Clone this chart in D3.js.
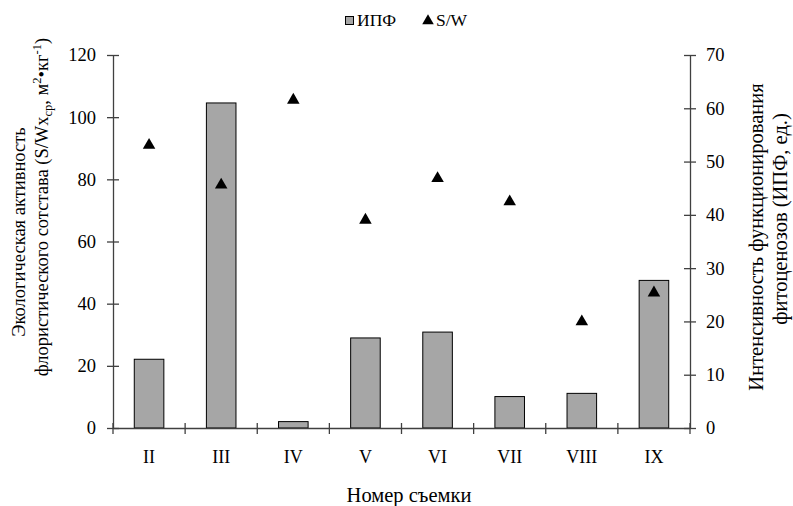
<!DOCTYPE html>
<html><head><meta charset="utf-8">
<script src="https://cdn.jsdelivr.net/npm/d3@7"></script>
<style>
html,body{margin:0;padding:0;background:#fff;}
</style></head>
<body><svg id="c" width="793" height="506" font-family="Liberation Serif"></svg>
<script>
const categories = ["II","III","IV","V","VI","VII","VIII","IX"];
const ipf = [12.9, 61, 1.2, 16.9, 18.0, 5.9, 6.5, 27.7];       // right axis (bars)
const sw = [91, 78.2, 105.5, 66.9, 80.3, 72.8, 34.2, 43.5];     // left axis (triangles)
const leftTicks = [0,20,40,60,80,100,120];
const rightTicks = [0,10,20,30,40,50,60,70];

const FONT = "Liberation Serif";
const svg = d3.select("#c");
const L = 113, R = 690, T = 55, B = 428;
const x = d3.scaleBand().domain(categories).range([L, R]).padding(0);
const yL = d3.scaleLinear().domain([0,120]).range([B, T]);
const yR = d3.scaleLinear().domain([0,70]).range([B, T]);
const axisColor = "#404040";

// bars
const bw = x.bandwidth() * 0.41;
svg.append("g").selectAll("rect").data(categories).join("rect")
  .attr("x", (d) => x(d) + x.bandwidth()/2 - bw/2)
  .attr("y", (d,i) => yR(ipf[i]))
  .attr("width", bw)
  .attr("height", (d,i) => B - yR(ipf[i]))
  .attr("fill", "#a6a6a6").attr("stroke", "#000").attr("stroke-width", 1);

// axes
function styleAxis(g, size){
  g.attr("font-family", FONT);
  g.select(".domain").attr("stroke", axisColor).attr("stroke-width", 1.3);
  g.selectAll(".tick line").attr("stroke", axisColor).attr("stroke-width", 1.3);
  g.selectAll(".tick text").attr("fill", "#000").attr("font-size", size).attr("font-family", FONT);
}
const gl = svg.append("g").attr("transform", `translate(${L},0)`)
  .call(d3.axisLeft(yL).tickValues(leftTicks).tickSize(6).tickPadding(11).tickSizeOuter(0));
gl.selectAll(".tick line").attr("x2", -6).attr("x1", 6);
styleAxis(gl, 18.5);

const gr = svg.append("g").attr("transform", `translate(${R},0)`)
  .call(d3.axisRight(yR).tickValues(rightTicks).tickSize(6).tickPadding(10).tickSizeOuter(0));
gr.selectAll(".tick line").attr("x2", 6).attr("x1", -6);
styleAxis(gr, 18.5);

const gb = svg.append("g").attr("transform", `translate(0,${B})`)
  .call(d3.axisBottom(x).tickSize(0).tickPadding(22).tickSizeOuter(0));
styleAxis(gb, 18);
gb.selectAll(".tick text").attr("dy", "0.71em");
// category boundary ticks
const bounds = categories.map(c => x(c)).concat([R]);
gb.append("g").selectAll("line").data(bounds).join("line")
  .attr("x1", d => d).attr("x2", d => d).attr("y1", -5).attr("y2", 6)
  .attr("stroke", axisColor).attr("stroke-width", 1.3);

// triangles
const tri = d3.symbol().type(d3.symbolTriangle).size(68);
svg.append("g").selectAll("path").data(categories).join("path")
  .attr("d", tri)
  .attr("transform", (d,i) => `translate(${x(d)+x.bandwidth()/2},${yL(sw[i])})`)
  .attr("fill", "#000");

// legend
const lg = svg.append("g").attr("font-family", FONT);
lg.append("rect").attr("x", 345.5).attr("y", 16.5).attr("width", 8).attr("height", 8)
  .attr("fill", "#a6a6a6").attr("stroke", "#000").attr("stroke-width", 1);
lg.append("text").attr("x", 357).attr("y", 26).attr("font-size", 17.5).text("ИПФ");
lg.append("path").attr("d", d3.symbol().type(d3.symbolTriangle).size(58)())
  .attr("transform", "translate(428,21)").attr("fill", "#000");
lg.append("text").attr("x", 436).attr("y", 26).attr("font-size", 17.5).text("S/W");

// axis titles
const fs = 20.5;
const tg = svg.append("g").attr("font-family", FONT).attr("font-size", fs);
const lfs = 18.5;
tg.append("text").attr("transform", "translate(25,232) rotate(-90)")
  .attr("font-size", lfs).attr("text-anchor", "middle").text("Экологическая активность");
const t2 = tg.append("text").attr("transform", "translate(48,207) rotate(-90)")
  .attr("font-size", lfs).attr("text-anchor", "middle");
t2.append("tspan").text("флористического сотстава (S/Wx");
t2.append("tspan").attr("font-size", 12.5).attr("dy", 4).text("ср");
t2.append("tspan").attr("dy", -4).text(", м");
t2.append("tspan").attr("font-size", 12.5).attr("dy", -7).text("2");
t2.append("tspan").attr("dy", 7).text("•кг");
t2.append("tspan").attr("font-size", 12.5).attr("dy", -7).text("-1");
t2.append("tspan").attr("dy", 7).text(")");

tg.append("text").attr("transform", "translate(763,237) rotate(-90)")
  .attr("text-anchor", "middle").text("Интенсивность функционирования");
tg.append("text").attr("transform", "translate(787,219) rotate(-90)")
  .attr("text-anchor", "middle").text("фитоценозов (ИПФ, ед.)");

tg.append("text").attr("x", 409).attr("y", 502).attr("text-anchor", "middle")
  .text("Номер съемки");
</script></body></html>
